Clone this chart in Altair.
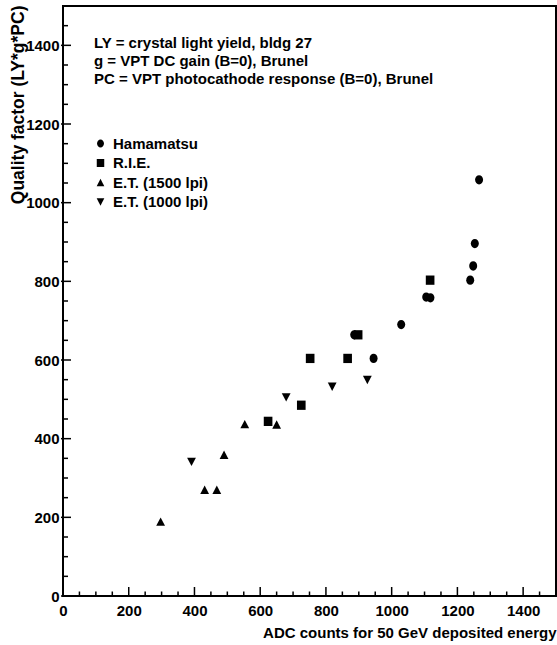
import altair as alt
import pandas as pd

# ---------------- data ----------------
series_names = ["Hamamatsu", "R.I.E.", "E.T. (1500 lpi)", "E.T. (1000 lpi)"]

ham_x = [886, 945, 1029, 1105, 1118, 1239, 1248, 1253, 1266]
ham_y = [664, 604, 690, 760, 758, 803, 839, 896, 1058]

rie_x = [624, 725, 752, 866, 898, 1117]
rie_y = [444, 485, 604, 604, 664, 803]

et1500_x = [297, 431, 468, 490, 553, 650]
et1500_y = [189, 270, 270, 359, 437, 436]

et1000_x = [391, 679, 819, 926]
et1000_y = [341, 505, 532, 549]

x_tick_labels = [0, 200, 400, 600, 800, 1000, 1200, 1400]
y_tick_labels = [0, 200, 400, 600, 800, 1000, 1200, 1400]
x_minor = [v for v in range(0, 1500, 50) if v % 200 != 0]
y_minor = [v for v in range(0, 1500, 50) if v % 200 != 0]

note_lines = [
    "LY = crystal light yield, bldg 27",
    "g = VPT DC gain (B=0), Brunel",
    "PC = VPT photocathode response (B=0), Brunel",
]

x_title = "ADC counts for 50 GeV deposited energy"
y_title = "Quality factor (LY*g*PC)"

# marker outlines (slightly taller than wide, like the reference)
series_shapes = [
    "M-1,0A1,1.16 0 1,0 1,0A1,1.16 0 1,0 -1,0Z",
    "M-1.08,-1.16L1.08,-1.16L1.08,1.16L-1.08,1.16Z",
    "M0,-1.05L1.1,1.05L-1.1,1.05Z",
    "M0,1.05L1.1,-1.05L-1.1,-1.05Z",
]

# ---------------- build table ----------------
rows = []
for name, xs, ys in zip(series_names,
                        [ham_x, rie_x, et1500_x, et1000_x],
                        [ham_y, rie_y, et1500_y, et1000_y]):
    for xv, yv in zip(xs, ys):
        rows.append({"series": name, "adc": xv, "q": yv})
df = pd.DataFrame(rows)

FONT = "Liberation Sans"
W, H = 493, 590

xscale = alt.Scale(domain=[0, 1500], nice=False, zero=False)
yscale = alt.Scale(domain=[0, 1500], nice=False, zero=False)

points = alt.Chart(df).mark_point(filled=True, color="black", size=64, opacity=1,
                                  strokeWidth=0).encode(
    x=alt.X("adc:Q", scale=xscale, axis=alt.Axis(
        values=x_tick_labels, format="d", ticks=False, domain=False, grid=False,
        labelFont=FONT, labelFontSize=15, labelFontWeight="bold", labelColor="black",
        labelPadding=7, labelFlush=False, labelOverlap=False,
        title=x_title, titleFont=FONT, titleFontSize=15, titleFontWeight="bold",
        titleColor="black", titleAnchor="end", titleAlign="right",
        titleX=W, titleY=41, titleBaseline="alphabetic")),
    y=alt.Y("q:Q", scale=yscale, axis=alt.Axis(
        values=y_tick_labels, format="d", ticks=False, domain=False, grid=False,
        labelFont=FONT, labelFontSize=15, labelFontWeight="bold", labelColor="black",
        labelPadding=4, labelOverlap=False,
        title=y_title, titleFont=FONT, titleFontSize=17.5, titleFontWeight="bold",
        titleColor="black", titleAngle=270, titleAnchor="end", titleAlign="right",
        titleX=-40, titleY=-1, titleBaseline="alphabetic")),
    shape=alt.Shape("series:N", scale=alt.Scale(domain=series_names, range=series_shapes),
                    legend=alt.Legend(orient="none", legendX=30, legendY=130, title=None,
                                      labelFont=FONT, labelFontSize=15, labelFontWeight="bold",
                                      labelColor="black", symbolSize=48,
                                      symbolFillColor="black", symbolStrokeColor="black",
                                      symbolStrokeWidth=0,
                                      rowPadding=3.5, labelOffset=5)),
)

ymaj = alt.Chart(pd.DataFrame({"v": y_tick_labels})).mark_rule(color="black", strokeWidth=1.5).encode(
    y=alt.Y("v:Q", scale=yscale), x=alt.value(-2), x2=alt.value(8))
ymin = alt.Chart(pd.DataFrame({"v": y_minor})).mark_rule(color="black", strokeWidth=1.5).encode(
    y=alt.Y("v:Q", scale=yscale), x=alt.value(0), x2=alt.value(5))
xmaj = alt.Chart(pd.DataFrame({"v": x_tick_labels})).mark_rule(color="black", strokeWidth=1.5).encode(
    x=alt.X("v:Q", scale=xscale), y=alt.value(H), y2=alt.value(H - 9))
xmin = alt.Chart(pd.DataFrame({"v": x_minor})).mark_rule(color="black", strokeWidth=1.5).encode(
    x=alt.X("v:Q", scale=xscale), y=alt.value(H), y2=alt.value(H - 4.5))

notes = alt.Chart(pd.DataFrame({"t": ["\n".join(note_lines)]})).mark_text(
    align="left", baseline="top", lineBreak="\n", lineHeight=18,
    font=FONT, fontSize=15, fontWeight="bold", color="black").encode(
    text="t:N", x=alt.value(31), y=alt.value(30))

chart = alt.layer(xmin, xmaj, ymin, ymaj, points, notes).properties(
    width=W, height=H,
    autosize=alt.AutoSizeParams(type="none"),
    padding={"left": 63, "top": 6, "right": 1, "bottom": 49},
    background="white",
).configure_view(stroke="black", strokeWidth=2)

chart.save("out.html", embed_options={"renderer": "svg", "actions": False})
